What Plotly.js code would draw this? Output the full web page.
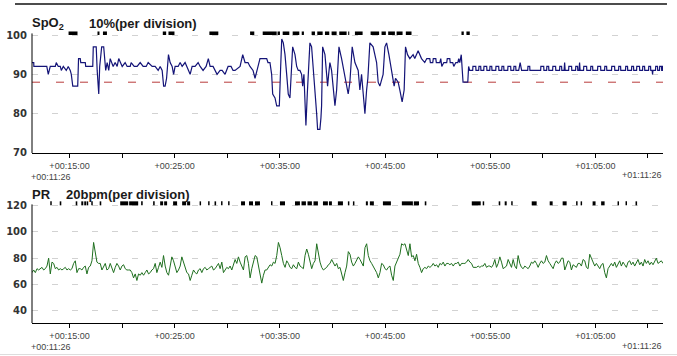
<!DOCTYPE html>
<html>
<head>
<meta charset="utf-8">
<script src="https://cdn.plot.ly/plotly-3.0.1.min.js"></script>
<style>
  html, body { margin: 0; padding: 0; background: #ffffff; }
  #chart { width: 677px; height: 356px; }
</style>
</head>
<body>
<div id="chart"></div>
<script>
// ---- time axis (clock minutes since midnight of recording offset) ----
const startTime = 11 + 26 / 60;      // +00:11:26
const endTime = 71 + 26 / 60;        // +01:11:26
const startLabel = '+00:11:26';
const endLabel = '+01:11:26';
const majorTicks = [15, 25, 35, 45, 55, 65];
const majorTickLabels = ['+00:15:00', '+00:25:00', '+00:35:00', '+00:45:00', '+00:55:00', '+01:05:00'];
const minorTicks = [20, 30, 40, 50, 60, 70];

// ---- SpO2 (%) ----
const spo2Ticks = [70, 80, 90, 100];
const spo2Alarm = 88;
const spo2Time = [
  11.43, 11.60, 11.61, 12.84, 12.98, 13.17, 13.65, 13.74, 13.93, 14.12,
  14.22, 14.41, 14.69, 14.88, 15.07, 15.17, 15.31, 15.78, 15.86, 16.02,
  16.07, 16.50, 16.54, 17.21, 17.26, 17.54, 17.63, 17.78, 17.87, 18.06,
  18.25, 18.44, 18.58, 18.73, 18.87, 19.15, 19.34, 19.53, 19.68, 19.82,
  20.01, 20.29, 20.48, 20.77, 20.86, 21.15, 21.43, 21.72, 22.00, 22.29,
  22.48, 22.86, 23.14, 23.43, 23.62, 23.81, 23.95, 24.09, 24.23, 24.41,
  24.57, 24.76, 24.90, 25.04, 25.33, 25.52, 25.71, 25.99, 26.28, 26.47,
  26.66, 26.94, 27.23, 27.42, 27.70, 27.99, 28.20, 28.37, 28.65, 28.84,
  29.03, 29.32, 29.51, 29.79, 30.08, 30.36, 30.55, 30.74, 31.22, 31.47,
  31.69, 31.97, 32.16, 32.45, 32.64, 32.83, 32.97, 33.11, 33.75, 33.87,
  34.06, 34.22, 34.32, 34.54, 34.70, 34.95, 35.08, 35.18, 35.33, 35.49,
  35.65, 35.80, 35.96, 36.12, 36.22, 36.44, 36.60, 36.75, 36.91, 37.07,
  37.17, 37.29, 37.39, 37.48, 37.61, 37.70, 37.86, 38.02, 38.18, 38.34,
  38.50, 38.59, 38.81, 38.91, 38.97, 39.07, 39.29, 39.45, 39.54, 39.64,
  39.76, 39.92, 40.24, 40.40, 40.62, 40.87, 41.19, 41.50, 41.66, 41.88,
  42.14, 42.45, 42.61, 42.77, 42.93, 43.09, 43.25, 43.37, 43.56, 43.87,
  44.20, 44.35, 44.51, 44.82, 44.99, 45.15, 45.37, 45.62, 45.87, 46.00,
  46.25, 46.41, 46.63, 46.82, 46.95, 47.14, 47.36, 47.67, 47.83, 48.15,
  48.47, 48.78, 48.97, 49.26, 49.31, 49.54, 49.59, 49.83, 49.88, 50.21,
  50.30, 50.40, 50.59, 50.87, 50.92, 51.16, 51.20, 51.44, 51.54, 51.73,
  51.92, 52.01, 52.11, 52.25, 52.35, 52.42, 52.87, 52.95, 53.05,
  53.34, 53.36, 53.63, 53.65, 53.91, 53.93, 54.10, 54.12, 54.39, 54.41,
  54.67, 54.69, 54.96, 54.98, 55.15, 55.17, 55.53, 55.55, 55.81, 55.83,
  56.10, 56.12, 56.29, 56.31, 56.67, 56.69, 56.95, 56.97, 57.24, 57.26,
  57.43, 57.45, 57.71, 57.85, 57.99, 58.57, 58.59, 58.76, 58.78, 59.80,
  59.82, 60.09, 60.11, 60.37, 60.39, 60.56, 60.58, 60.94, 60.96, 61.22,
  61.24, 61.60, 61.62, 61.79, 61.81, 62.03, 62.08, 62.13, 62.46, 62.48,
  62.74, 62.76, 63.12, 63.14, 63.31, 63.33, 63.45, 63.50, 63.55, 63.88,
  63.90, 64.17, 64.19, 64.55, 64.57, 64.74, 64.76, 65.21, 65.23, 65.50,
  65.52, 65.88, 65.90, 66.07, 66.09, 66.54, 66.56, 66.83, 66.85, 67.21,
  67.23, 67.40, 67.42, 67.87, 67.89, 68.06, 68.08, 68.44, 68.46, 68.63,
  68.65, 68.92, 68.94, 69.20, 69.22, 69.49, 69.51, 69.68, 69.70, 70.06,
  70.08, 70.25, 70.27, 70.40, 70.44, 70.48, 70.72, 70.74, 70.91, 70.93,
  71.10, 71.12, 71.29, 71.31, 71.38, 71.40, 71.43
];
const spo2Value = [
  93, 93, 92, 92, 90, 92, 92, 93, 92, 92,
  91, 92, 91, 92, 91, 90, 87, 87, 94, 94,
  93, 93, 92, 92, 97, 97, 91, 85, 92, 97,
  97, 91, 93, 91, 94, 92, 93, 92, 94, 93,
  92, 93, 92, 92, 93, 92, 92, 93, 92, 92,
  93, 92, 92, 91, 92, 91, 87, 87, 89, 95,
  93, 92, 90, 92, 92, 93, 92, 93, 91, 90,
  92, 92, 93, 92, 91, 92, 94, 92, 92, 91,
  90, 91, 91, 90, 92, 92, 91, 91, 92, 95,
  93, 93, 92, 91, 89, 91, 93, 94, 94, 93,
  93, 90, 85, 84, 82, 82, 92, 99, 98, 95,
  90, 85, 84, 91, 97, 95, 92, 91, 91, 90,
  87, 90, 82, 77, 85, 90, 98, 97, 92, 85,
  80, 76, 76, 79, 82, 97, 95, 90, 87, 90,
  93, 91, 82, 86, 97, 94, 89, 85, 88, 97,
  93, 91, 86, 90, 85, 80, 86, 89, 98, 97,
  93, 88, 87, 90, 97, 98, 95, 91, 87, 89,
  88, 86, 83, 86, 97, 95, 94, 95, 94, 96,
  94, 93, 94, 94, 93, 93, 94, 94, 93, 93,
  94, 92, 93, 93, 94, 94, 93, 93, 92, 93,
  93, 94, 93, 95, 92, 88, 88, 92, 91,
  91, 92, 92, 91, 91, 92, 92, 91, 91, 92,
  92, 91, 91, 92, 92, 91, 91, 92, 92, 91,
  91, 92, 92, 91, 91, 92, 92, 91, 91, 92,
  92, 91, 91, 93, 91, 91, 92, 92, 91, 91,
  92, 92, 91, 91, 92, 92, 91, 91, 92, 92,
  91, 91, 92, 92, 91, 91, 93, 91, 91, 92,
  92, 91, 91, 92, 92, 91, 91, 93, 91, 91,
  92, 92, 91, 91, 92, 92, 91, 91, 92, 92,
  91, 91, 92, 92, 91, 91, 92, 92, 91, 91,
  92, 92, 91, 91, 92, 92, 91, 91, 92, 92,
  91, 91, 92, 92, 91, 91, 92, 92, 91, 91,
  92, 92, 91, 91, 90, 91, 91, 92, 92, 91,
  91, 92, 92, 91, 91, 92, 92
];
const spo2EventStart = [14.91, 17.66, 18.18, 23.87, 24.41, 28.30, 32.17, 33.37, 34.78, 35.27,
  36.22, 37.08, 38.02, 38.56, 39.29, 39.92, 40.65, 41.50, 42.14, 43.63,
  44.67, 45.30, 46.10, 46.98, 52.27, 52.74];
const spo2EventEnd = [15.76, 17.85, 18.56, 24.19, 24.98, 29.15, 32.57, 34.70, 35.01, 35.90,
  36.85, 37.29, 38.34, 39.07, 39.70, 40.40, 41.35, 41.60, 42.87, 44.44,
  45.08, 45.94, 46.67, 47.52, 52.49, 53.06];

// ---- Pulse rate (bpm), one reading every 60/379 min from start ----
const prTicks = [40, 60, 80, 100, 120];
const prSampleMinutes = 60 / 379;
const prValue = [
  69, 71, 69, 72, 71, 72, 73, 71, 72, 74,
  80, 68, 77, 76, 72, 73, 71, 72, 71, 72,
  73, 71, 72, 71, 72, 76, 78, 69, 72, 72,
  71, 73, 74, 68, 73, 74, 78, 92, 83, 77,
  76, 76, 71, 74, 76, 71, 72, 76, 72, 69,
  73, 76, 74, 71, 74, 75, 72, 71, 71, 71,
  69, 65, 68, 63, 68, 67, 69, 67, 69, 71,
  68, 69, 71, 72, 76, 69, 73, 77, 73, 82,
  74, 69, 67, 76, 81, 78, 74, 69, 71, 74,
  81, 77, 73, 69, 68, 63, 67, 71, 69, 68,
  71, 72, 69, 72, 73, 71, 72, 73, 74, 71,
  72, 74, 76, 72, 77, 69, 71, 73, 72, 74,
  71, 76, 79, 76, 81, 77, 74, 71, 81, 82,
  76, 65, 72, 78, 82, 81, 74, 69, 61, 67,
  71, 71, 73, 75, 74, 77, 76, 82, 92, 88,
  82, 76, 73, 78, 76, 73, 72, 75, 73, 72,
  77, 74, 73, 72, 82, 87, 83, 76, 72, 76,
  78, 91, 82, 77, 73, 71, 72, 73, 75,
  76, 79, 77, 74, 76, 72, 73, 67, 63, 69,
  74, 85, 83, 77, 74, 76, 79, 81, 79, 76,
  74, 88, 91, 82, 78, 76, 74, 71, 69, 65,
  69, 76, 75, 72, 71, 73, 74, 67, 63, 74,
  77, 79, 83, 91, 90, 91, 86, 82, 91, 81,
  82, 78, 83, 76, 73, 69, 72, 73, 72, 74,
  73, 74, 76, 74, 75, 73, 76, 75, 77, 74,
  76, 76, 75, 76, 74, 76, 76, 77, 74, 76,
  76, 76, 77, 79, 77, 76, 73, 73, 73, 74,
  73, 74, 74, 76, 73, 74, 74, 73, 75, 79,
  73, 76, 81, 77, 72, 73, 74, 79, 76, 73,
  79, 74, 72, 82, 76, 73, 72, 74, 73, 72,
  74, 77, 76, 78, 76, 73, 76, 78, 76, 77,
  82, 78, 76, 74, 72, 76, 78, 76, 77, 80,
  80, 71, 74, 78, 77, 71, 75, 74, 73, 76,
  76, 74, 79, 78, 73, 72, 83, 80, 77, 74,
  76, 74, 72, 75, 76, 69, 65, 72, 74, 76,
  74, 77, 73, 76, 78, 74, 77, 75, 73, 77,
  78, 75, 77, 74, 76, 79, 75, 77, 74, 79,
  76, 78, 75, 77, 75, 78, 80, 76, 77, 78,
  76
];
const prEventStart = [13.17, 14.07, 15.59, 16.12, 16.40, 16.64, 17.07, 17.87, 19.82, 20.67,
  21.81, 22.95, 23.62, 24.00, 24.85, 25.71, 26.18, 27.37, 28.18, 28.79,
  29.41, 30.08, 31.31, 32.07, 32.64, 34.16, 35.01, 36.44, 37.06, 37.63,
  38.20, 39.10, 39.67, 40.52, 41.47, 41.95, 43.18, 43.56, 44.80, 46.60,
  47.74, 48.78, 53.25, 54.29, 55.81, 56.38, 57.00, 58.95, 60.66, 61.89,
  63.17, 63.60, 64.74, 65.55, 67.11, 67.87, 68.82];
const prEventEnd = [13.31, 14.22, 15.74, 16.31, 16.59, 16.78, 17.21, 18.02, 20.58, 21.53,
  21.96, 23.10, 23.90, 24.28, 25.23, 26.09, 26.47, 27.51, 28.32, 28.94,
  29.55, 30.22, 31.69, 32.45, 33.11, 34.30, 35.49, 36.91, 37.48, 38.05,
  38.62, 39.57, 39.95, 41.00, 41.61, 42.09, 43.37, 43.94, 45.56, 47.65,
  48.23, 48.93, 54.10, 54.43, 55.96, 56.57, 57.14, 59.42, 60.94, 62.27,
  63.31, 63.74, 65.02, 65.88, 67.25, 68.01, 68.97];

// ---- build traces ----
const prTime = prValue.map((_, i) => startTime + i * prSampleMinutes);

function eventSegments(starts, ends, level) {
  const xs = [], ys = [];
  starts.forEach((s, i) => { xs.push(s, ends[i], null); ys.push(level, level, null); });
  return { x: xs, y: ys };
}
const spo2Ev = eventSegments(spo2EventStart, spo2EventEnd, 100.45);
const prEv = eventSegments(prEventStart, prEventEnd, 121.8);

const traces = [
  { x: [startTime, endTime], y: [spo2Alarm, spo2Alarm], xaxis: 'x', yaxis: 'y', mode: 'lines',
    line: { color: '#b83a3a', width: 1, dash: '8px,16px' }, hoverinfo: 'skip' },
  { x: spo2Time, y: spo2Value, xaxis: 'x', yaxis: 'y', mode: 'lines',
    line: { color: '#141478', width: 1.2 } },
  { x: spo2Ev.x, y: spo2Ev.y, xaxis: 'x', yaxis: 'y', mode: 'lines', connectgaps: false,
    line: { color: '#000000', width: 3.5 } },
  { x: prTime, y: prValue, xaxis: 'x2', yaxis: 'y2', mode: 'lines',
    line: { color: '#1f6f1f', width: 1 } },
  { x: prEv.x, y: prEv.y, xaxis: 'x2', yaxis: 'y2', mode: 'lines', connectgaps: false,
    line: { color: '#000000', width: 4 } }
];

const tickFont = { family: 'Liberation Sans, Arial, sans-serif', size: 9, color: '#444444' };
const yTickFont = { family: 'DejaVu Sans, Verdana, sans-serif', size: 10, color: '#333333', weight: 'bold' };

function xAxis(anchor) {
  return {
    anchor: anchor, domain: [0, 1], range: [startTime, endTime],
    tickmode: 'array', tickvals: majorTicks, ticktext: majorTickLabels,
    ticks: 'outside', ticklen: 4, tickcolor: '#000', tickwidth: 1,
    minor: { tickmode: 'array', tickvals: minorTicks, ticks: 'outside', ticklen: 4, tickcolor: '#000', showgrid: false },
    showline: true, linecolor: '#000', linewidth: 1,
    showgrid: false, zeroline: false, tickfont: tickFont, fixedrange: true
  };
}
function yAxis(anchor, domain, range, ticks) {
  return {
    anchor: anchor, domain: domain, range: range,
    tickmode: 'array', tickvals: ticks, ticks: '', ticklabelstandoff: 4,
    showline: false, zeroline: false,
    showgrid: true, gridcolor: '#d2d2d2', gridwidth: 1, griddash: '6px,14px',
    tickfont: yTickFont, fixedrange: true
  };
}

const titleFont = { family: 'Liberation Sans, Arial, sans-serif', size: 13, color: '#1a1a1a', weight: 'bold' };
const layout = {
  width: 677, height: 356,
  margin: { l: 32, r: 14, t: 28, b: 33 },
  paper_bgcolor: '#ffffff', plot_bgcolor: '#ffffff',
  showlegend: false,
  xaxis: xAxis('y'),
  xaxis2: xAxis('y2'),
  yaxis: yAxis('x', [0.5763, 1], [70, 101.78], spo2Ticks),
  yaxis2: yAxis('x2', [0, 0.4203], [30.6, 125.1], prTicks),
  shapes: [
    { type: 'line', xref: 'paper', yref: 'y', x0: 0, x1: 0, y0: 70, y1: 100.4, line: { color: '#000', width: 1 } },
    { type: 'line', xref: 'paper', yref: 'y2', x0: 0, x1: 0, y0: 30.6, y1: 121, line: { color: '#000', width: 1 } },
    { type: 'line', xref: 'paper', yref: 'paper', x0: -0.027, x1: 1.0063, y0: 1.0814, y1: 1.0814, line: { color: '#111', width: 1.5 } },
    { type: 'line', xref: 'paper', yref: 'paper', x0: -0.06, x1: 1.03, y0: -0.1068, y1: -0.1068, line: { color: '#dddddd', width: 1 } }
  ],
  annotations: [
    { xref: 'paper', yref: 'paper', x: -0.0024, y: 1.0136, xanchor: 'left', yanchor: 'middle', showarrow: false,
      text: 'SpO<sub>2</sub>', font: titleFont },
    { xref: 'paper', yref: 'paper', x: 0.0872, y: 1.0136, xanchor: 'left', yanchor: 'middle', showarrow: false,
      text: '10%(per division)', font: titleFont },
    { xref: 'paper', yref: 'paper', x: -0.0024, y: 0.4339, xanchor: 'left', yanchor: 'middle', showarrow: false,
      text: 'PR', font: titleFont },
    { xref: 'paper', yref: 'paper', x: 0.0507, y: 0.4339, xanchor: 'left', yanchor: 'middle', showarrow: false,
      text: '20bpm(per division)', font: titleFont },
    { xref: 'x', yref: 'paper', x: startTime, xshift: -3, y: 0.4949, xanchor: 'left', yanchor: 'middle', showarrow: false,
      text: startLabel, font: tickFont },
    { xref: 'x', yref: 'paper', x: endTime, xshift: 1, y: 0.5017, xanchor: 'right', yanchor: 'middle', showarrow: false,
      text: endLabel, font: tickFont },
    { xref: 'x2', yref: 'paper', x: startTime, xshift: -3, y: -0.0797, xanchor: 'left', yanchor: 'middle', showarrow: false,
      text: startLabel, font: tickFont },
    { xref: 'x2', yref: 'paper', x: endTime, xshift: 1, y: -0.0763, xanchor: 'right', yanchor: 'middle', showarrow: false,
      text: endLabel, font: tickFont }
  ]
};

Plotly.newPlot('chart', traces, layout, { displayModeBar: false, staticPlot: true });
</script>
</body>
</html>
